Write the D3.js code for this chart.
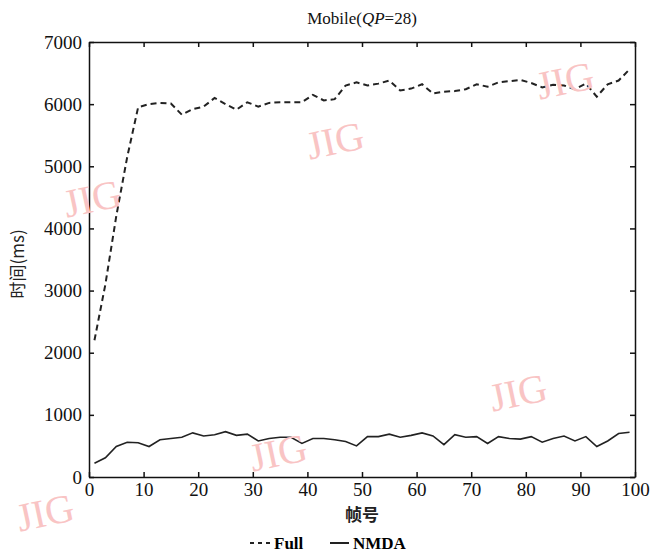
<!DOCTYPE html>
<html>
<head>
<meta charset="utf-8">
<script src="https://cdn.jsdelivr.net/npm/d3@7"></script>
<style>
  body { margin: 0; background: #fff; }
  svg { display: block; }
  .axis text { font-family: 'Liberation Serif', 'Times New Roman', serif; font-size: 19px; fill: #111; }
  .axis path, .axis line { stroke: #111; stroke-width: 1.5; }
</style>
</head>
<body>
<svg width="654" height="554"></svg>
<script>
// frame numbers (every second frame)
var frames = d3.range(1, 100, 2);

// encoding time in ms, full search
var fullTime = [
  2200, 3100, 4200, 5150, 5950, 6000, 6020, 6010, 5830, 5920,
  5960, 6100, 6000, 5910, 6030, 5960, 6020, 6030, 6030, 6030,
  6150, 6060, 6080, 6300, 6350, 6300, 6330, 6380, 6220, 6250,
  6320, 6170, 6200, 6210, 6240, 6320, 6280, 6350, 6370, 6390,
  6340, 6270, 6310, 6300, 6240, 6330, 6120, 6320, 6380, 6560
];

// encoding time in ms, NMDA
var nmdaTime = [
  220, 310, 490, 560, 550, 490, 600, 620, 640, 710,
  660, 680, 730, 670, 690, 580, 620, 640, 640, 540,
  620, 620, 600, 570, 500, 650, 650, 690, 640, 670,
  710, 660, 520, 680, 640, 650, 540, 650, 620, 610,
  650, 560, 620, 660, 580, 650, 490, 580, 700, 720
];

var xTicks = d3.range(0, 101, 10);
var yTicks = d3.range(0, 7001, 1000);

var svg = d3.select('svg'),
  margin = { top: 42, right: 19, bottom: 77, left: 89 },
  width = 654 - margin.left - margin.right,
  height = 554 - margin.top - margin.bottom;

var g = svg.append('g').attr('transform', 'translate(' + margin.left + ',' + margin.top + ')');

var x = d3.scaleLinear().domain([0, 100]).range([0, width]);
var y = d3.scaleLinear().domain([0, 7000]).range([height, 0]);

// watermarks from the scanned figure
var marks = [[335, 140], [92, 198], [565, 80], [518, 392], [278, 452], [45, 512]];
svg.append('g')
  .selectAll('text')
  .data(marks)
  .enter()
  .append('text')
  .attr('transform', (d) => 'translate(' + d[0] + ',' + d[1] + ') rotate(-12)')
  .attr('text-anchor', 'middle')
  .attr('dy', '0.35em')
  .style('font', '40px "Liberation Serif", serif')
  .style('fill', '#f9c4c4')
  .text('JIG');

// axes with inward ticks
g.append('g')
  .attr('class', 'axis')
  .attr('transform', 'translate(0,' + height + ')')
  .call(d3.axisBottom(x).tickValues(xTicks).tickSizeInner(-5).tickSizeOuter(0).tickPadding(6));

g.append('g')
  .attr('class', 'axis')
  .call(d3.axisLeft(y).tickValues(yTicks).tickFormat(d3.format('d')).tickSizeInner(-5).tickSizeOuter(0).tickPadding(7));

g.append('g')
  .attr('class', 'axis')
  .call(d3.axisTop(x).tickValues(xTicks).tickSizeInner(-5).tickSizeOuter(0).tickFormat(''));

g.append('g')
  .attr('class', 'axis')
  .attr('transform', 'translate(' + width + ',0)')
  .call(d3.axisRight(y).tickValues(yTicks).tickSizeInner(-5).tickSizeOuter(0).tickFormat(''));

var line = d3.line()
  .x((d, i) => x(frames[i]))
  .y((d) => y(d));

g.append('path')
  .datum(fullTime)
  .attr('fill', 'none')
  .attr('stroke', '#222')
  .attr('stroke-width', 2)
  .attr('stroke-dasharray', '6,4')
  .attr('d', line);

g.append('path')
  .datum(nmdaTime)
  .attr('fill', 'none')
  .attr('stroke', '#222')
  .attr('stroke-width', 1.6)
  .attr('d', line);

// title
var title = svg.append('text')
  .attr('x', margin.left + width / 2)
  .attr('y', 24)
  .attr('text-anchor', 'middle')
  .style('font', '17px "Liberation Serif", serif')
  .style('fill', '#111');
title.append('tspan').text('Mobile(');
title.append('tspan').style('font-style', 'italic').text('QP');
title.append('tspan').text('=28)');

// axis titles
svg.append('text')
  .attr('transform', 'translate(24,' + (margin.top + height * 0.51) + ') rotate(-90)')
  .attr('text-anchor', 'middle')
  .style('font', '17px "Noto Sans CJK SC", sans-serif')
  .style('fill', '#222')
  .text('时间(ms)');

svg.append('text')
  .attr('x', margin.left + width / 2)
  .attr('y', 521)
  .attr('text-anchor', 'middle')
  .style('font', 'bold 17px "Noto Sans CJK SC", sans-serif')
  .style('fill', '#222')
  .text('帧号');

// legend
var legend = svg.append('g').attr('transform', 'translate(250,543)');
legend.append('line')
  .attr('x1', 0).attr('x2', 20)
  .attr('stroke', '#222').attr('stroke-width', 2).attr('stroke-dasharray', '4,4');
legend.append('text')
  .attr('x', 24).attr('dy', '0.35em')
  .style('font', 'bold 17px "Liberation Serif", serif')
  .text('Full');
legend.append('line')
  .attr('x1', 80).attr('x2', 99)
  .attr('stroke', '#222').attr('stroke-width', 2);
legend.append('text')
  .attr('x', 103).attr('dy', '0.35em')
  .style('font', 'bold 17px "Liberation Serif", serif')
  .text('NMDA');
</script>
</body>
</html>
